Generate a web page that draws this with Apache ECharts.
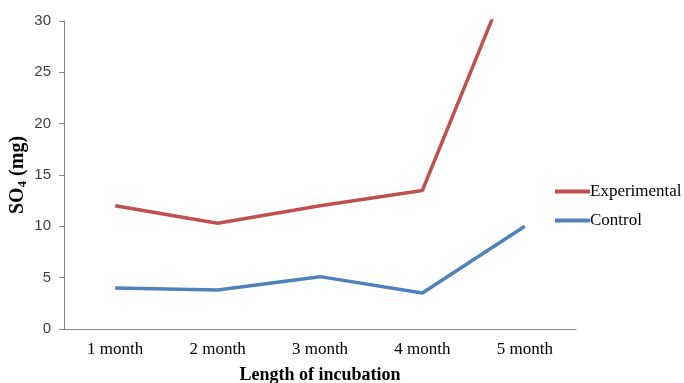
<!DOCTYPE html>
<html><head><meta charset="utf-8">
<script src="https://cdn.jsdelivr.net/npm/echarts@6/dist/echarts.min.js"></script>
<style>html,body{margin:0;padding:0;background:#fff;overflow:hidden}#c{width:684px;height:383px}</style>
</head><body><div id="c"></div>
<script>
var categories = ['1 month', '2 month', '3 month', '4 month', '5 month'];
var experimental = [12.0, 10.3, 12.0, 13.5, 38];
var control = [4.0, 3.8, 5.1, 3.5, 10.0];
var yTicks = [0, 5, 10, 15, 20, 25, 30];

var chart = echarts.init(document.getElementById('c'), null, {width: 684, height: 383});
chart.setOption({
  animation: false,
  grid: {left: 64, width: 512, top: 21, height: 308, containLabel: false, outerBoundsMode: 'none'},
  legend: {
    orient: 'vertical', left: 550, top: 178, itemGap: 12,
    icon: 'rect', itemWidth: 35, itemHeight: 4,
    textStyle: {fontFamily: 'Liberation Serif', fontSize: 17, color: '#000', padding: [0,0,0,-5]},
    data: ['Experimental', 'Control']
  },
  xAxis: {
    type: 'category', data: categories, boundaryGap: true,
    axisLine: {lineStyle: {color: '#868686', width: 1}},
    axisTick: {show: false},
    axisLabel: {fontFamily: 'Liberation Serif', fontSize: 17, color: '#000', margin: 12},
    name: 'Length of incubation', nameLocation: 'middle', nameGap: 37,
    nameTextStyle: {fontFamily: 'Liberation Serif', fontSize: 18, fontWeight: 'bold', color: '#000'}
  },
  yAxis: {
    type: 'value', min: 0, max: 30, interval: 5,
    axisLine: {show: true, lineStyle: {color: '#868686', width: 1}},
    axisTick: {show: true, length: 5, lineStyle: {color: '#868686'}},
    splitLine: {show: false},
    axisLabel: {fontFamily: 'Liberation Sans', fontSize: 15, color: '#404040', margin: 13,
      formatter: function(v){ return yTicks.indexOf(v) >= 0 ? String(v) : ''; }},
    name: '{b|SO}{s|4}{b| (mg)}', nameLocation: 'middle', nameGap: 35, nameRotate: 90,
    nameMoveOverlap: false,
    nameTextStyle: {
      rich: {
        b: {fontFamily: 'Liberation Serif', fontSize: 20, fontWeight: 'bold', color: '#000'},
        s: {fontFamily: 'Liberation Serif', fontSize: 13, fontWeight: 'bold', color: '#000', verticalAlign: 'bottom', padding: [10,0,0,0]}
      }
    }
  },
  series: [
    {name: 'Experimental', type: 'line', data: experimental, symbol: 'none', clip: true,
     lineStyle: {color: '#C0504D', width: 3.5}, itemStyle: {color: '#C0504D'}},
    {name: 'Control', type: 'line', data: control, symbol: 'none', clip: true,
     lineStyle: {color: '#4F81BD', width: 3.5}, itemStyle: {color: '#4F81BD'}}
  ]
});
</script></body></html>
